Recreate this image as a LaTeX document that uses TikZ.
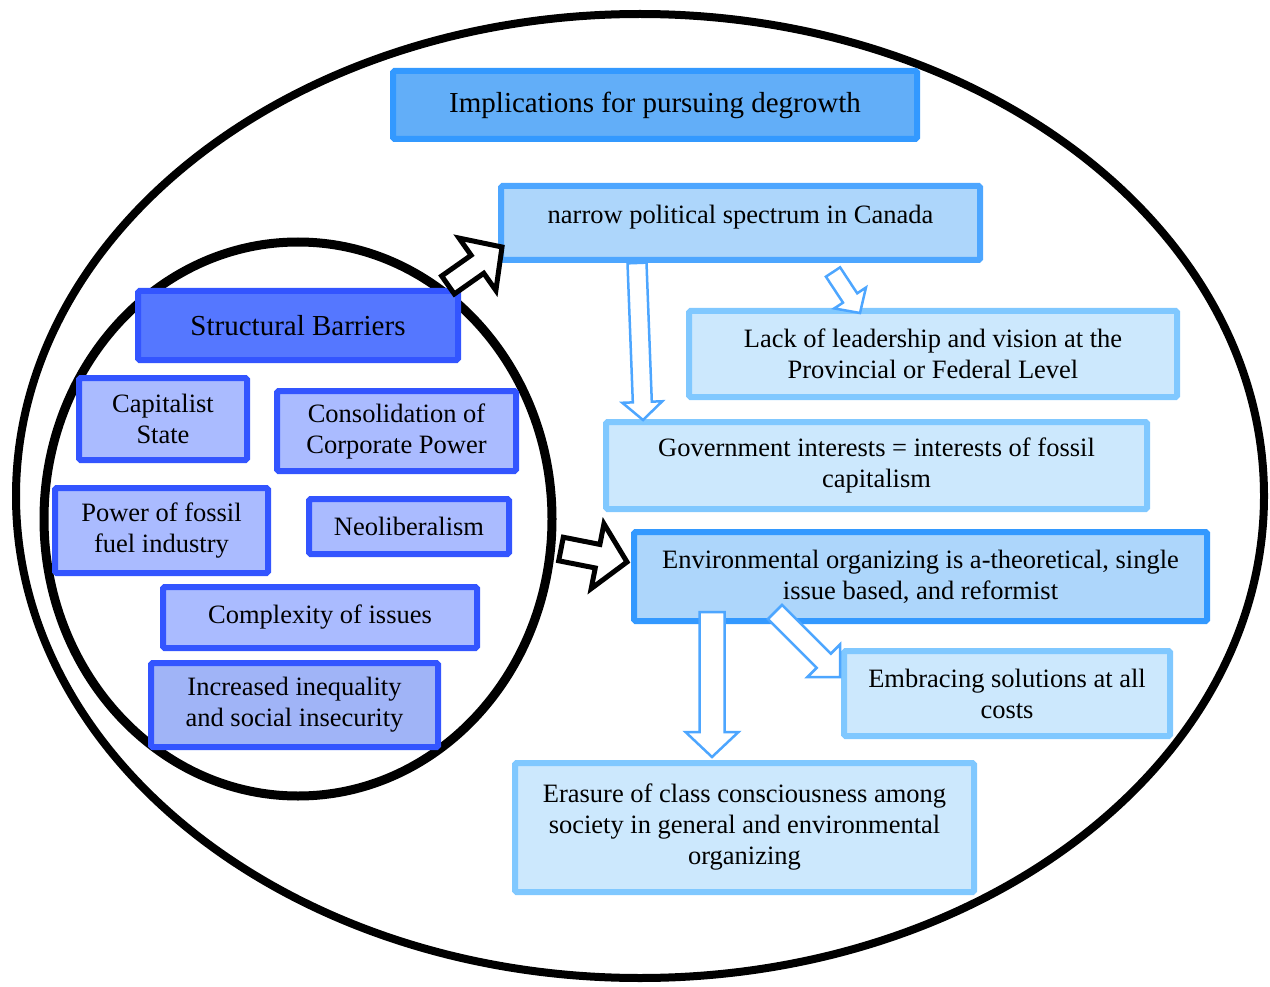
\documentclass[tikz,border=0pt]{standalone}
\usepackage{fontspec}
\setmainfont{Liberation Serif}
\usetikzlibrary{calc}

\definecolor{titlefill}{RGB}{98,174,248}
\definecolor{titledraw}{RGB}{51,153,255}
\definecolor{midfill}{RGB}{173,214,251}
\definecolor{middraw}{RGB}{77,166,255}
\definecolor{lightfill}{RGB}{204,232,253}
\definecolor{lightdraw}{RGB}{128,200,255}
\definecolor{barfill}{RGB}{85,119,255}
\definecolor{bardraw}{RGB}{51,85,255}
\definecolor{itemfill}{RGB}{170,187,255}
\definecolor{ineqfill}{RGB}{160,180,247}
\definecolor{arrowblue}{RGB}{77,166,255}

% block arrow: style, tail, tip, shaft half width, head half width, head length
\newcommand{\blockarrow}[6]{%
\path ($(#3)!#6!(#2)$) coordinate (ba-base);
\draw[#1] ($(#2)!#4!90:(#3)$) -- ($(ba-base)!#4!90:(#3)$) -- ($(ba-base)!#5!90:(#3)$) -- (#3) -- ($(ba-base)!#5!-90:(#3)$) -- ($(ba-base)!#4!-90:(#3)$) -- ($(#2)!#4!-90:(#3)$) -- cycle;
}

\begin{document}
\begin{tikzpicture}[x=1pt,y=-1pt,
  box/.style={rectangle,rounded corners=1.5pt,line width=6pt,align=center,inner sep=0pt,font=\fontsize{26.5}{31}\selectfont},
  headbox/.style={box,font=\fontsize{29}{34}\selectfont},
  midbox/.style={box,fill=midfill,draw=middraw},
  lightbox/.style={box,fill=lightfill,draw=lightdraw},
  itembox/.style={box,fill=itemfill,draw=bardraw},
  blackarrow/.style={draw=black,fill=white,line width=5pt},
  bluearrow/.style={draw=arrowblue,fill=white,line width=2.5pt}]
\useasboundingbox (0,0) rectangle (1270,987);

% the two circles
\draw[line width=8pt] (640,496) ellipse [x radius=624pt, y radius=482pt];
\draw[line width=9pt] (298,519) ellipse [x radius=254pt, y radius=277pt];

% implications
\node[headbox,fill=titlefill,draw=titledraw,minimum width=524,minimum height=68] (implic) at (655,105) {Implications for pursuing degrowth};
\node[midbox,minimum width=479,minimum height=74,text depth=18pt] (narrow) at (740.5,223) {narrow political spectrum in Canada};
\node[lightbox,minimum width=488,minimum height=86] (lack) at (933,354) {Lack of leadership and vision at the\\Provincial or Federal Level};
\node[lightbox,minimum width=541,minimum height=87] (gov) at (876.5,465.5) {Government interests = interests of fossil\\capitalism};
\node[midbox,draw=titledraw,minimum width=573,minimum height=89] (env) at (920.5,576.5) {Environmental organizing is a-theoretical, single\\issue based, and reformist};
\node[lightbox,minimum width=326,minimum height=85] (embrace) at (1007,693.5) {Embracing solutions at all\\costs};
\node[lightbox,minimum width=459,minimum height=129] (erasure) at (744.5,827.5) {Erasure of class consciousness among\\society in general and environmental\\organizing};

% structural barriers
\node[headbox,fill=barfill,draw=bardraw,minimum width=320,minimum height=69] (barriers) at (298,325.5) {Structural Barriers};
\node[itembox,minimum width=168,minimum height=82] (capstate) at (163,419) {Capitalist\\State};
\node[itembox,minimum width=239,minimum height=80] (corp) at (396.5,431) {Consolidation of\\Corporate Power};
\node[itembox,minimum width=213,minimum height=85] (fossil) at (161.5,530.5) {Power of fossil\\fuel industry};
\node[itembox,minimum width=200,minimum height=55] (neolib) at (409,526.5) {Neoliberalism};
\node[itembox,minimum width=314,minimum height=61] (complex) at (320,617.5) {Complexity of issues};
\node[itembox,fill=ineqfill,minimum width=287,minimum height=84] (ineq) at (294.5,705) {Increased inequality\\and social insecurity};

% arrow ends
\coordinate (barsTop) at (448,285);
\coordinate (narrowIn) at (502,247);
\coordinate (barsSide) at (561,549);
\coordinate (envIn) at (627,562);
\coordinate (narrowOut) at (637,263);
\coordinate (govIn) at (643,420);
\coordinate (narrowOutB) at (833,272);
\coordinate (lackIn) at (860,313);
\coordinate (envOut) at (712,612);
\coordinate (erasureIn) at (712,757);
\coordinate (envOutB) at (775,612);
\coordinate (embraceIn) at (840,677);

\blockarrow{blackarrow}{barsTop}{narrowIn}{11pt}{32pt}{30pt}
\blockarrow{blackarrow}{barsSide}{envIn}{12pt}{33pt}{30pt}
\blockarrow{bluearrow}{narrowOut}{govIn}{9.5pt}{20pt}{18pt}
\blockarrow{bluearrow}{narrowOutB}{lackIn}{8.5pt}{19pt}{18pt}
\blockarrow{bluearrow}{envOut}{erasureIn}{12.5pt}{26.5pt}{25pt}
\blockarrow{bluearrow}{envOutB}{embraceIn}{10pt}{23pt}{23pt}
\end{tikzpicture}
\end{document}
